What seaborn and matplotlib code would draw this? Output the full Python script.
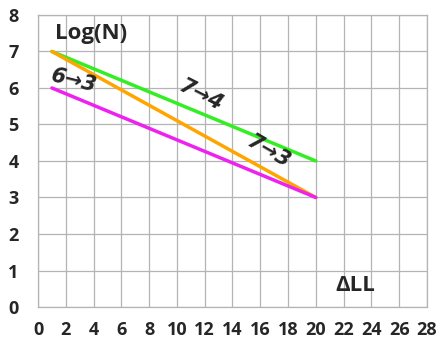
import pandas as pd
import seaborn as sns
import matplotlib.pyplot as plt

# end points of each transition line (delta LL, log N)
x_vals = [1, 20]
y_74 = [7, 4]
y_73 = [7, 3]
y_63 = [6, 3]
series = ['7→4', '7→3', '6→3']
colors = ['#33ee22', '#ffa500', '#ee22ee']

x_ticks = list(range(0, 29, 2))
y_ticks = list(range(0, 9))

df = pd.DataFrame({
    'x': x_vals * 3,
    'y': y_74 + y_73 + y_63,
    'line': [s for s in series for _ in x_vals],
})

sns.set_style('whitegrid')
plt.rcParams['font.family'] = ['Open Sans', 'DejaVu Sans']

f = plt.figure(figsize=(4.37, 3.4), dpi=100)
ax = f.add_axes([0.087, 0.097, 0.89, 0.859])
sns.lineplot(data=df, x='x', y='y', hue='line', palette=colors,
             linewidth=2.5, legend=False, ax=ax)

ax.set_xlim(0, 28)
ax.set_ylim(0, 8)
ax.set_xticks(x_ticks)
ax.set_yticks(y_ticks)
ax.set_xlabel('')
ax.set_ylabel('')
ax.grid(color='#b4b4b4', linewidth=0.9)
for s in ax.spines.values():
    s.set_color('#b4b4b4')
    s.set_linewidth(0.9)
ax.tick_params(axis='both', length=5, color='#b4b4b4', labelsize=13)
ax.tick_params(axis='x', pad=5)
ax.tick_params(axis='y', pad=9)
for lbl in ax.get_xticklabels() + ax.get_yticklabels():
    lbl.set_fontweight('bold')

ax.text(1.2, 7.5, 'Log(N)', fontsize=16, fontweight='bold', ha='left', va='center')
ax.text(21.4, 0.6, 'ΔLL', fontsize=16, fontweight='bold', ha='left', va='center')
ax.text(11.7, 5.8, '7→4', fontsize=15, fontweight='bold', style='italic',
        rotation=-27, ha='center', va='center', family=['DejaVu Sans'])
ax.text(16.6, 4.25, '7→3', fontsize=15, fontweight='bold', style='italic',
        rotation=-30, ha='center', va='center', family=['DejaVu Sans'])
ax.text(2.6, 6.2, '6→3', fontsize=15, fontweight='bold', style='italic',
        rotation=-14, ha='center', va='center', family=['DejaVu Sans'])

f.savefig('out.png', dpi=100)
plt.close(f)
